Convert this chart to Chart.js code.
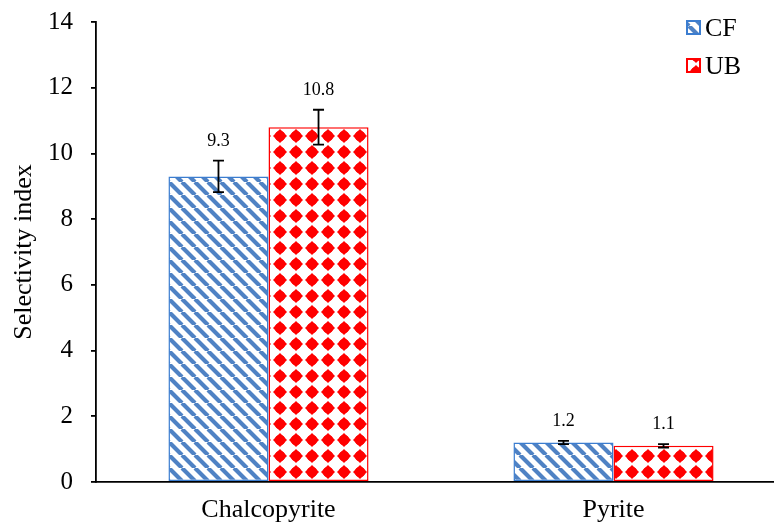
<!DOCTYPE html>
<html>
<head>
<meta charset="utf-8">
<script src="https://cdn.jsdelivr.net/npm/chart.js@4.4.1/dist/chart.umd.min.js"></script>
<style>
  html, body { margin: 0; padding: 0; background: #fff; overflow: hidden; }
  #wrap { width: 774px; height: 525px; overflow: hidden; }
</style>
</head>
<body>
<div id="wrap"><canvas id="chart" width="786" height="525"></canvas></div>
<script>
const categories = ["Chalcopyrite", "Pyrite"];
const seriesNames = ["CF", "UB"];
const cfValues = [9.3, 1.2];
const ubValues = [10.8, 1.1];
const cfErrors = [0.48, 0.05];
const ubErrors = [0.53, 0.05];
const yTicks = [0, 2, 4, 6, 8, 10, 12, 14];

const FONT = "'Liberation Serif', 'Times New Roman', serif";
const BLUE = "#4f82c4";
const BLUE_EDGE = "#3b7dd0";
const RED = "#ff0000";

function stripePattern() {
  const s = 13;
  const c = document.createElement("canvas");
  c.width = s; c.height = s;
  const g = c.getContext("2d");
  g.fillStyle = "#fff";
  g.fillRect(0, 0, s, s);
  g.strokeStyle = BLUE;
  g.lineWidth = 4.2;
  g.beginPath();
  [-s, 0, s].forEach((k) => {
    g.moveTo(k, 0);
    g.lineTo(k + s, s);
  });
  g.stroke();
  return g.createPattern(c, "repeat");
}

function diamondPattern() {
  const s = 16;
  const c = document.createElement("canvas");
  c.width = s; c.height = s;
  const g = c.getContext("2d");
  g.fillStyle = "#fff";
  g.fillRect(0, 0, s, s);
  g.fillStyle = RED;
  g.beginPath();
  g.moveTo(8, 1);
  g.lineTo(15, 8);
  g.lineTo(8, 15);
  g.lineTo(1, 8);
  g.closePath();
  g.fill();
  g.beginPath();
  g.arc(8, 8, 5.3, 0, Math.PI * 2);
  g.fill();
  return g.createPattern(c, "repeat");
}

const ctx = document.getElementById("chart").getContext("2d");
const cfFill = stripePattern();
const ubFill = diamondPattern();

const errorBars = {
  id: "errorBars",
  afterDatasetsDraw(chart) {
    const c = chart.ctx;
    const y = chart.scales.y;
    const errs = [cfErrors, ubErrors];
    c.save();
    chart.data.datasets.forEach((ds, di) => {
      const meta = chart.getDatasetMeta(di);
      meta.data.forEach((bar, i) => {
        const v = ds.data[i];
        const e = errs[di][i];
        const top = y.getPixelForValue(v + e);
        const bot = y.getPixelForValue(v - e);
        c.strokeStyle = "#000";
        c.lineWidth = 1.8;
        c.beginPath();
        c.moveTo(bar.x, top); c.lineTo(bar.x, bot);
        c.moveTo(bar.x - 5.5, top); c.lineTo(bar.x + 5.5, top);
        c.moveTo(bar.x - 5.5, bot); c.lineTo(bar.x + 5.5, bot);
        c.stroke();
        c.fillStyle = "#000";
        c.font = "18px " + FONT;
        c.textAlign = "center";
        c.textBaseline = "alphabetic";
        c.fillText(v.toFixed(1), bar.x, top - 15);
      });
    });
    c.restore();
  },
};

const sideLegend = {
  id: "sideLegend",
  afterDraw(chart) {
    const c = chart.ctx;
    const fills = [cfFill, ubFill];
    const edges = [BLUE_EDGE, RED];
    c.save();
    seriesNames.forEach((name, i) => {
      const bx = 687, by = 21 + i * 38;
      c.fillStyle = fills[i];
      c.fillRect(bx, by, 13, 13);
      c.strokeStyle = edges[i];
      c.lineWidth = 2;
      c.strokeRect(bx, by, 13, 13);
      c.fillStyle = "#000";
      c.font = "26px " + FONT;
      c.textAlign = "left";
      c.textBaseline = "middle";
      c.fillText(name, bx + 18, by + 8);
    });
    c.restore();
  },
};

new Chart(ctx, {
  type: "bar",
  data: {
    labels: categories,
    datasets: [
      {
        label: seriesNames[0],
        data: cfValues,
        backgroundColor: cfFill,
        borderColor: BLUE_EDGE,
        borderWidth: 1.5,
        borderSkipped: false,
      },
      {
        label: seriesNames[1],
        data: ubValues,
        backgroundColor: ubFill,
        borderColor: RED,
        borderWidth: 1.5,
        borderSkipped: false,
      },
    ],
  },
  options: {
    responsive: false,
    animation: false,
    layout: { padding: { top: 22, right: 0, left: 0, bottom: 0 } },
    datasets: { bar: { categoryPercentage: 0.58, barPercentage: 1 } },
    plugins: { legend: { display: false }, tooltip: { enabled: false } },
    scales: {
      x: {
        grid: { display: false, drawTicks: false },
        border: { color: "#000", width: 1.8 },
        ticks: { color: "#000", font: { family: FONT, size: 26 }, padding: 13 },
        afterFit(s) { s.height = 43; s.paddingLeft = 0; s.paddingRight = 0; },
      },
      y: {
        min: 0,
        max: 14,
        afterBuildTicks(s) { s.ticks = yTicks.map((v) => ({ value: v })); },
        grid: { drawOnChartArea: false, drawTicks: true, tickLength: 5, color: "#000", lineWidth: 1.8 },
        border: { color: "#000", width: 1.8 },
        ticks: { color: "#000", font: { family: FONT, size: 25 }, padding: 18 },
        title: { display: true, text: "Selectivity index", color: "#000", font: { family: FONT, size: 26 }, padding: { top: 9, bottom: 0 } },
        afterFit(s) { s.width = 96; s.paddingTop = 0; s.paddingBottom = 0; },
      },
    },
  },
  plugins: [errorBars, sideLegend],
});
</script>
</body>
</html>
